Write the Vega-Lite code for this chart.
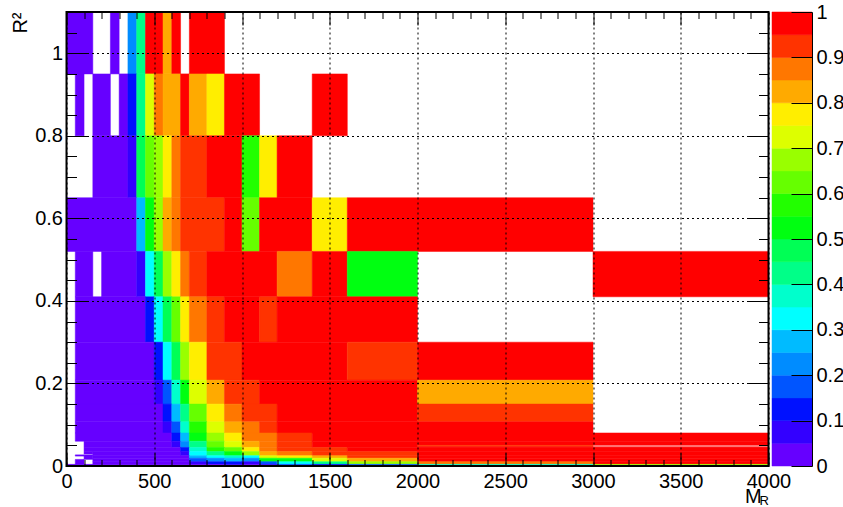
{"$schema":"https://vega.github.io/schema/vega-lite/v6.json","autosize":{"type":"pad"},"background":"white","padding":{"left":9.5,"top":2,"right":0,"bottom":0},"bounds":"flush","spacing":3.5,
"config":{"view":{"stroke":null},"font":"Liberation Sans"},
"datasets":{"cells":[
{"x0":0,"x1":150,"y0":0.95,"y1":1.1,"v":0.025},{"x0":250,"x1":300,"y0":0.95,"y1":1.1,"v":0.025},{"x0":350,"x1":400,"y0":0.95,"y1":1.1,"v":0.225},{"x0":400,"x1":450,"y0":0.95,"y1":1.1,"v":0.425},{"x0":450,"x1":550,"y0":0.95,"y1":1.1,"v":0.975},{"x0":550,"x1":600,"y0":0.95,"y1":1.1,"v":0.825},{"x0":600,"x1":650,"y0":0.95,"y1":1.1,"v":0.975},{"x0":700,"x1":900,"y0":0.95,"y1":1.1,"v":0.975},
{"x0":50,"x1":100,"y0":0.8,"y1":0.95,"v":0.025},{"x0":150,"x1":250,"y0":0.8,"y1":0.95,"v":0.025},{"x0":300,"x1":350,"y0":0.8,"y1":0.95,"v":0.025},{"x0":350,"x1":400,"y0":0.8,"y1":0.95,"v":0.125},{"x0":400,"x1":450,"y0":0.8,"y1":0.95,"v":0.425},{"x0":450,"x1":500,"y0":0.8,"y1":0.95,"v":0.725},{"x0":500,"x1":550,"y0":0.8,"y1":0.95,"v":0.875},{"x0":550,"x1":650,"y0":0.8,"y1":0.95,"v":0.825},{"x0":650,"x1":700,"y0":0.8,"y1":0.95,"v":0.975},{"x0":700,"x1":800,"y0":0.8,"y1":0.95,"v":0.825},{"x0":800,"x1":900,"y0":0.8,"y1":0.95,"v":0.775},{"x0":900,"x1":1100,"y0":0.8,"y1":0.95,"v":0.975},{"x0":1400,"x1":1600,"y0":0.8,"y1":0.95,"v":0.975},
{"x0":150,"x1":350,"y0":0.65,"y1":0.8,"v":0.025},{"x0":350,"x1":400,"y0":0.65,"y1":0.8,"v":0.075},{"x0":400,"x1":450,"y0":0.65,"y1":0.8,"v":0.475},{"x0":450,"x1":500,"y0":0.65,"y1":0.8,"v":0.625},{"x0":500,"x1":550,"y0":0.65,"y1":0.8,"v":0.675},{"x0":550,"x1":600,"y0":0.65,"y1":0.8,"v":0.775},{"x0":600,"x1":650,"y0":0.65,"y1":0.8,"v":0.875},{"x0":650,"x1":800,"y0":0.65,"y1":0.8,"v":0.925},{"x0":800,"x1":1000,"y0":0.65,"y1":0.8,"v":0.975},{"x0":1000,"x1":1100,"y0":0.65,"y1":0.8,"v":0.575},{"x0":1100,"x1":1200,"y0":0.65,"y1":0.8,"v":0.775},{"x0":1200,"x1":1400,"y0":0.65,"y1":0.8,"v":0.975},
{"x0":0,"x1":400,"y0":0.52,"y1":0.65,"v":0.025},{"x0":400,"x1":450,"y0":0.52,"y1":0.65,"v":0.275},{"x0":450,"x1":500,"y0":0.52,"y1":0.65,"v":0.525},{"x0":500,"x1":550,"y0":0.52,"y1":0.65,"v":0.675},{"x0":550,"x1":600,"y0":0.52,"y1":0.65,"v":0.825},{"x0":600,"x1":650,"y0":0.52,"y1":0.65,"v":0.875},{"x0":650,"x1":900,"y0":0.52,"y1":0.65,"v":0.925},{"x0":900,"x1":1000,"y0":0.52,"y1":0.65,"v":0.975},{"x0":1000,"x1":1100,"y0":0.52,"y1":0.65,"v":0.625},{"x0":1100,"x1":1400,"y0":0.52,"y1":0.65,"v":0.975},{"x0":1400,"x1":1600,"y0":0.52,"y1":0.65,"v":0.775},{"x0":1600,"x1":3000,"y0":0.52,"y1":0.65,"v":0.975},
{"x0":50,"x1":150,"y0":0.41,"y1":0.52,"v":0.025},{"x0":200,"x1":400,"y0":0.41,"y1":0.52,"v":0.025},{"x0":400,"x1":450,"y0":0.41,"y1":0.52,"v":0.075},{"x0":450,"x1":500,"y0":0.41,"y1":0.52,"v":0.325},{"x0":500,"x1":550,"y0":0.41,"y1":0.52,"v":0.475},{"x0":550,"x1":600,"y0":0.41,"y1":0.52,"v":0.675},{"x0":600,"x1":650,"y0":0.41,"y1":0.52,"v":0.775},{"x0":650,"x1":700,"y0":0.41,"y1":0.52,"v":0.875},{"x0":700,"x1":800,"y0":0.41,"y1":0.52,"v":0.925},{"x0":800,"x1":1200,"y0":0.41,"y1":0.52,"v":0.975},{"x0":1200,"x1":1400,"y0":0.41,"y1":0.52,"v":0.875},{"x0":1400,"x1":1600,"y0":0.41,"y1":0.52,"v":0.975},{"x0":1600,"x1":2000,"y0":0.41,"y1":0.52,"v":0.525},{"x0":3000,"x1":4000,"y0":0.41,"y1":0.52,"v":0.975},
{"x0":50,"x1":450,"y0":0.3,"y1":0.41,"v":0.025},{"x0":450,"x1":500,"y0":0.3,"y1":0.41,"v":0.125},{"x0":500,"x1":550,"y0":0.3,"y1":0.41,"v":0.325},{"x0":550,"x1":600,"y0":0.3,"y1":0.41,"v":0.475},{"x0":600,"x1":650,"y0":0.3,"y1":0.41,"v":0.625},{"x0":650,"x1":700,"y0":0.3,"y1":0.41,"v":0.775},{"x0":700,"x1":800,"y0":0.3,"y1":0.41,"v":0.875},{"x0":800,"x1":900,"y0":0.3,"y1":0.41,"v":0.925},{"x0":900,"x1":1100,"y0":0.3,"y1":0.41,"v":0.975},{"x0":1100,"x1":1200,"y0":0.3,"y1":0.41,"v":0.925},{"x0":1200,"x1":2000,"y0":0.3,"y1":0.41,"v":0.975},
{"x0":50,"x1":500,"y0":0.208,"y1":0.3,"v":0.025},{"x0":500,"x1":550,"y0":0.208,"y1":0.3,"v":0.125},{"x0":550,"x1":600,"y0":0.208,"y1":0.3,"v":0.325},{"x0":600,"x1":650,"y0":0.208,"y1":0.3,"v":0.475},{"x0":650,"x1":700,"y0":0.208,"y1":0.3,"v":0.675},{"x0":700,"x1":800,"y0":0.208,"y1":0.3,"v":0.775},{"x0":800,"x1":1000,"y0":0.208,"y1":0.3,"v":0.925},{"x0":1000,"x1":1600,"y0":0.208,"y1":0.3,"v":0.975},{"x0":1600,"x1":2000,"y0":0.208,"y1":0.3,"v":0.925},{"x0":2000,"x1":3000,"y0":0.208,"y1":0.3,"v":0.975},
{"x0":50,"x1":500,"y0":0.15,"y1":0.208,"v":0.025},{"x0":500,"x1":550,"y0":0.15,"y1":0.208,"v":0.075},{"x0":550,"x1":600,"y0":0.15,"y1":0.208,"v":0.175},{"x0":600,"x1":650,"y0":0.15,"y1":0.208,"v":0.375},{"x0":650,"x1":700,"y0":0.15,"y1":0.208,"v":0.525},{"x0":700,"x1":800,"y0":0.15,"y1":0.208,"v":0.725},{"x0":800,"x1":900,"y0":0.15,"y1":0.208,"v":0.825},{"x0":900,"x1":1100,"y0":0.15,"y1":0.208,"v":0.925},{"x0":1100,"x1":2000,"y0":0.15,"y1":0.208,"v":0.975},{"x0":2000,"x1":3000,"y0":0.15,"y1":0.208,"v":0.825},
{"x0":50,"x1":550,"y0":0.107,"y1":0.15,"v":0.025},{"x0":550,"x1":600,"y0":0.107,"y1":0.15,"v":0.125},{"x0":600,"x1":650,"y0":0.107,"y1":0.15,"v":0.275},{"x0":650,"x1":700,"y0":0.107,"y1":0.15,"v":0.425},{"x0":700,"x1":800,"y0":0.107,"y1":0.15,"v":0.625},{"x0":800,"x1":900,"y0":0.107,"y1":0.15,"v":0.775},{"x0":900,"x1":1000,"y0":0.107,"y1":0.15,"v":0.875},{"x0":1000,"x1":1200,"y0":0.107,"y1":0.15,"v":0.925},{"x0":1200,"x1":2000,"y0":0.107,"y1":0.15,"v":0.975},{"x0":2000,"x1":3000,"y0":0.107,"y1":0.15,"v":0.925},
{"x0":50,"x1":550,"y0":0.08,"y1":0.107,"v":0.025},{"x0":550,"x1":600,"y0":0.08,"y1":0.107,"v":0.075},{"x0":600,"x1":650,"y0":0.08,"y1":0.107,"v":0.175},{"x0":650,"x1":700,"y0":0.08,"y1":0.107,"v":0.375},{"x0":700,"x1":800,"y0":0.08,"y1":0.107,"v":0.575},{"x0":800,"x1":900,"y0":0.08,"y1":0.107,"v":0.725},{"x0":900,"x1":1000,"y0":0.08,"y1":0.107,"v":0.825},{"x0":1000,"x1":1100,"y0":0.08,"y1":0.107,"v":0.875},{"x0":1100,"x1":1200,"y0":0.08,"y1":0.107,"v":0.925},{"x0":1200,"x1":3000,"y0":0.08,"y1":0.107,"v":0.975},
{"x0":50,"x1":600,"y0":0.06,"y1":0.08,"v":0.025},{"x0":600,"x1":650,"y0":0.06,"y1":0.08,"v":0.125},{"x0":650,"x1":700,"y0":0.06,"y1":0.08,"v":0.275},{"x0":700,"x1":800,"y0":0.06,"y1":0.08,"v":0.525},{"x0":800,"x1":900,"y0":0.06,"y1":0.08,"v":0.675},{"x0":900,"x1":1000,"y0":0.06,"y1":0.08,"v":0.775},{"x0":1000,"x1":1200,"y0":0.06,"y1":0.08,"v":0.875},{"x0":1200,"x1":1400,"y0":0.06,"y1":0.08,"v":0.925},{"x0":1400,"x1":4000,"y0":0.06,"y1":0.08,"v":0.975},
{"x0":100,"x1":600,"y0":0.045,"y1":0.06,"v":0.025},{"x0":600,"x1":650,"y0":0.045,"y1":0.06,"v":0.075},{"x0":650,"x1":700,"y0":0.045,"y1":0.06,"v":0.225},{"x0":700,"x1":800,"y0":0.045,"y1":0.06,"v":0.425},{"x0":800,"x1":900,"y0":0.045,"y1":0.06,"v":0.625},{"x0":900,"x1":1000,"y0":0.045,"y1":0.06,"v":0.725},{"x0":1000,"x1":1100,"y0":0.045,"y1":0.06,"v":0.825},{"x0":1100,"x1":1200,"y0":0.045,"y1":0.06,"v":0.875},{"x0":1200,"x1":1400,"y0":0.045,"y1":0.06,"v":0.925},{"x0":1400,"x1":2000,"y0":0.045,"y1":0.06,"v":0.975},
{"x0":2000,"x1":4000,"y0":0.05,"y1":0.06,"v":0.975},{"x0":2000,"x1":3000,"y0":0.0465,"y1":0.05,"v":0.925},{"x0":2000,"x1":4000,"y0":0.045,"y1":0.0465,"v":0.975},
{"x0":100,"x1":650,"y0":0.035,"y1":0.045,"v":0.025},{"x0":650,"x1":700,"y0":0.035,"y1":0.045,"v":0.125},{"x0":700,"x1":800,"y0":0.035,"y1":0.045,"v":0.375},{"x0":800,"x1":900,"y0":0.035,"y1":0.045,"v":0.575},{"x0":900,"x1":1000,"y0":0.035,"y1":0.045,"v":0.625},{"x0":1000,"x1":1100,"y0":0.035,"y1":0.045,"v":0.775},{"x0":1100,"x1":1200,"y0":0.035,"y1":0.045,"v":0.875},{"x0":1200,"x1":1600,"y0":0.035,"y1":0.045,"v":0.925},{"x0":1600,"x1":4000,"y0":0.035,"y1":0.045,"v":0.975},
{"x0":150,"x1":650,"y0":0.025,"y1":0.035,"v":0.025},{"x0":650,"x1":700,"y0":0.025,"y1":0.035,"v":0.075},{"x0":700,"x1":800,"y0":0.025,"y1":0.035,"v":0.325},{"x0":800,"x1":900,"y0":0.025,"y1":0.035,"v":0.425},{"x0":900,"x1":1000,"y0":0.025,"y1":0.035,"v":0.525},{"x0":1000,"x1":1100,"y0":0.025,"y1":0.035,"v":0.675},{"x0":1100,"x1":1200,"y0":0.025,"y1":0.035,"v":0.825},{"x0":1200,"x1":1400,"y0":0.025,"y1":0.035,"v":0.875},{"x0":1400,"x1":2000,"y0":0.025,"y1":0.035,"v":0.925},{"x0":2000,"x1":4000,"y0":0.025,"y1":0.035,"v":0.975},
{"x0":150,"x1":700,"y0":0.019,"y1":0.025,"v":0.025},{"x0":700,"x1":800,"y0":0.019,"y1":0.025,"v":0.275},{"x0":800,"x1":900,"y0":0.019,"y1":0.025,"v":0.325},{"x0":900,"x1":1000,"y0":0.019,"y1":0.025,"v":0.375},{"x0":1000,"x1":1100,"y0":0.019,"y1":0.025,"v":0.325},{"x0":1100,"x1":1200,"y0":0.019,"y1":0.025,"v":0.725},{"x0":1200,"x1":1400,"y0":0.019,"y1":0.025,"v":0.775},{"x0":1400,"x1":1600,"y0":0.019,"y1":0.025,"v":0.825},{"x0":1600,"x1":2000,"y0":0.019,"y1":0.025,"v":0.925},{"x0":2000,"x1":4000,"y0":0.019,"y1":0.025,"v":0.975},
{"x0":150,"x1":700,"y0":0.0105,"y1":0.019,"v":0.025},{"x0":700,"x1":800,"y0":0.0105,"y1":0.019,"v":0.175},{"x0":800,"x1":900,"y0":0.0105,"y1":0.019,"v":0.225},{"x0":900,"x1":1000,"y0":0.0105,"y1":0.019,"v":0.275},{"x0":1000,"x1":1100,"y0":0.0105,"y1":0.019,"v":0.225},{"x0":1100,"x1":1400,"y0":0.0105,"y1":0.019,"v":0.525},{"x0":1400,"x1":1600,"y0":0.0105,"y1":0.019,"v":0.725},{"x0":1600,"x1":2000,"y0":0.0105,"y1":0.019,"v":0.825},{"x0":2000,"x1":4000,"y0":0.0105,"y1":0.019,"v":0.975},
{"x0":150,"x1":700,"y0":0.004,"y1":0.0105,"v":0.025},{"x0":700,"x1":800,"y0":0.004,"y1":0.0105,"v":0.075},{"x0":800,"x1":1000,"y0":0.004,"y1":0.0105,"v":0.125},{"x0":1000,"x1":1100,"y0":0.004,"y1":0.0105,"v":0.075},{"x0":1100,"x1":1200,"y0":0.004,"y1":0.0105,"v":0.175},{"x0":1200,"x1":1400,"y0":0.004,"y1":0.0105,"v":0.325},{"x0":1400,"x1":1600,"y0":0.004,"y1":0.0105,"v":0.425},{"x0":1600,"x1":2000,"y0":0.004,"y1":0.0105,"v":0.675},{"x0":2000,"x1":3000,"y0":0.004,"y1":0.0105,"v":0.875},{"x0":3000,"x1":4000,"y0":0.004,"y1":0.0105,"v":0.975},
{"x0":0,"x1":900,"y0":0,"y1":0.004,"v":0.025},{"x0":900,"x1":1000,"y0":0,"y1":0.004,"v":0.075},{"x0":1000,"x1":1100,"y0":0,"y1":0.004,"v":0.025},{"x0":1100,"x1":1200,"y0":0,"y1":0.004,"v":0.075},{"x0":1200,"x1":1400,"y0":0,"y1":0.004,"v":0.175},{"x0":1400,"x1":1600,"y0":0,"y1":0.004,"v":0.125},{"x0":1600,"x1":2000,"y0":0,"y1":0.004,"v":0.175},{"x0":2000,"x1":3000,"y0":0,"y1":0.004,"v":0.375},{"x0":3000,"x1":4000,"y0":0,"y1":0.004,"v":0.675},
{"x0":50,"x1":100,"y0":0.004,"y1":0.016,"v":0.025},{"x0":50,"x1":100,"y0":0.024,"y1":0.027,"v":0.025},{"x0":100,"x1":150,"y0":0.029,"y1":0.035,"v":0.025},{"x0":100,"x1":150,"y0":0.016,"y1":0.027,"v":0.025}
],
"bar":[{"y0":0,"y1":0.05,"v":0.025},{"y0":0.05,"y1":0.1,"v":0.075},{"y0":0.1,"y1":0.15,"v":0.125},{"y0":0.15,"y1":0.2,"v":0.175},{"y0":0.2,"y1":0.25,"v":0.225},{"y0":0.25,"y1":0.3,"v":0.275},{"y0":0.3,"y1":0.35,"v":0.325},{"y0":0.35,"y1":0.4,"v":0.375},{"y0":0.4,"y1":0.45,"v":0.425},{"y0":0.45,"y1":0.5,"v":0.475},{"y0":0.5,"y1":0.55,"v":0.525},{"y0":0.55,"y1":0.6,"v":0.575},{"y0":0.6,"y1":0.65,"v":0.625},{"y0":0.65,"y1":0.7,"v":0.675},{"y0":0.7,"y1":0.75,"v":0.725},{"y0":0.75,"y1":0.8,"v":0.775},{"y0":0.8,"y1":0.85,"v":0.825},{"y0":0.85,"y1":0.9,"v":0.875},{"y0":0.9,"y1":0.95,"v":0.925},{"y0":0.95,"y1":1,"v":0.975}],
"frame":[{"x0":0,"x1":4000,"y0":0,"y1":1.1}]},
"hconcat":[
{"width":702,"height":454,"layer":[
{"data":{"name":"cells"},"mark":{"type":"rect","strokeWidth":0.5},
"encoding":{
"x":{"field":"x0","type":"quantitative","scale":{"domain":[0,4000],"nice":false,"zero":false},
"axis":{"orient":"bottom","values":[0,100,200,300,400,500,600,700,800,900,1000,1100,1200,1300,1400,1500,1600,1700,1800,1900,2000,2100,2200,2300,2400,2500,2600,2700,2800,2900,3000,3100,3200,3300,3400,3500,3600,3700,3800,3900,4000],
"zindex":1,"domain":false,"grid":true,"gridColor":"#000","gridDash":[2,3],"gridWidth":1,"gridOpacity":{"condition":{"test":"datum.value%500===0","value":1},"value":0},
"ticks":true,"tickColor":"#000","tickWidth":1,"tickSize":{"condition":{"test":"datum.value%500===0","value":-13},"value":-6.5},
"labelExpr":"datum.value%500===0?format(datum.value,'d'):''","labelFontSize":20,"labelColor":"#000","labelFont":"Liberation Sans","labelPadding":18,"labelOverlap":false,"labelFlush":false,"labelBound":false,
"title":"M","titleFont":"Liberation Sans","titleFontWeight":"normal","titleFontSize":20,"titleColor":"#000","titleX":678,"titleY":36,"titleAlign":"left","titleBaseline":"alphabetic"}},
"x2":{"field":"x1"},
"y":{"field":"y0","type":"quantitative","scale":{"domain":[0,1.1],"nice":false,"zero":false},
"axis":{"orient":"left","values":[0,0.05,0.1,0.15,0.2,0.25,0.3,0.35,0.4,0.45,0.5,0.55,0.6,0.65,0.7,0.75,0.8,0.85,0.9,0.95,1,1.05,1.1],
"zindex":1,"domain":false,"grid":true,"gridColor":"#000","gridDash":[2,3],"gridWidth":1,"gridOpacity":{"condition":{"test":"abs(datum.value*5-round(datum.value*5))<0.001","value":1},"value":0},
"ticks":true,"tickColor":"#000","tickWidth":1,"tickSize":{"condition":{"test":"abs(datum.value*5-round(datum.value*5))<0.001","value":-20},"value":-10},
"labelExpr":"abs(datum.value*5-round(datum.value*5))<0.001?format(datum.value,'~g'):''","labelFontSize":20,"labelColor":"#000","labelFont":"Liberation Sans","labelPadding":24,"labelOverlap":false,"labelFlush":false,"labelBound":false,
"title":"R²","titleFont":"Liberation Sans","titleFontWeight":"normal","titleFontSize":20,"titleColor":"#000","titleX":-40.5,"titleY":0,"titleAngle":-90,"titleAlign":"right","titleBaseline":"alphabetic"}},
"y2":{"field":"y1"},
"stroke":{"field":"v","type":"quantitative","legend":null,"scale":{"type":"threshold","domain":[0.05,0.1,0.15,0.2,0.25,0.3,0.35,0.4,0.45,0.5,0.55,0.6,0.65,0.7,0.75,0.8,0.85,0.9,0.95],"range":["#6600ff","#3300ff","#0011ff","#0055ff","#008cff","#00bbff","#00ffff","#00ffcc","#00ff88","#00ff55","#00ff11","#22ff00","#66ff00","#99ff00","#ddff00","#ffee00","#ffaa00","#ff7700","#ff3300","#ff0000"]}},
"color":{"field":"v","type":"quantitative","legend":null,"scale":{"type":"threshold","domain":[0.05,0.1,0.15,0.2,0.25,0.3,0.35,0.4,0.45,0.5,0.55,0.6,0.65,0.7,0.75,0.8,0.85,0.9,0.95],"range":["#6600ff","#3300ff","#0011ff","#0055ff","#008cff","#00bbff","#00ffff","#00ffcc","#00ff88","#00ff55","#00ff11","#22ff00","#66ff00","#99ff00","#ddff00","#ffee00","#ffaa00","#ff7700","#ff3300","#ff0000"]}}}},
{"data":{"name":"frame"},"mark":{"type":"rect","filled":false,"stroke":"#000","strokeWidth":2},
"encoding":{
"x":{"field":"x0","type":"quantitative","scale":{"domain":[0,4000],"nice":false,"zero":false},
"axis":{"orient":"top","values":[0,100,200,300,400,500,600,700,800,900,1000,1100,1200,1300,1400,1500,1600,1700,1800,1900,2000,2100,2200,2300,2400,2500,2600,2700,2800,2900,3000,3100,3200,3300,3400,3500,3600,3700,3800,3900,4000],
"zindex":1,"domain":false,"grid":false,"labels":false,"tickColor":"#000","tickWidth":1,"tickSize":{"condition":{"test":"datum.value%500===0","value":-13},"value":-6.5},
"title":"R","titleFont":"Liberation Sans","titleFontWeight":"normal","titleFontSize":13,"titleColor":"#000","titleX":692.5,"titleY":492,"titleAlign":"left","titleBaseline":"alphabetic"}},
"x2":{"field":"x1"},
"y":{"field":"y0","type":"quantitative","scale":{"domain":[0,1.1],"nice":false,"zero":false},
"axis":{"orient":"right","values":[0,0.05,0.1,0.15,0.2,0.25,0.3,0.35,0.4,0.45,0.5,0.55,0.6,0.65,0.7,0.75,0.8,0.85,0.9,0.95,1,1.05,1.1],
"zindex":1,"domain":false,"grid":false,"labels":false,"tickColor":"#000","tickWidth":1,"tickSize":{"condition":{"test":"abs(datum.value*5-round(datum.value*5))<0.001","value":-20},"value":-10},"title":null}},
"y2":{"field":"y1"}}}
],"resolve":{"axis":{"x":"independent","y":"independent"}}},
{"width":40,"height":454,"data":{"name":"bar"},"mark":{"type":"rect","strokeWidth":0.5},
"encoding":{
"y":{"field":"y0","type":"quantitative","scale":{"domain":[0,1],"nice":false,"zero":false},
"axis":{"orient":"right","values":[0,0.1,0.2,0.3,0.4,0.5,0.6,0.7,0.8,0.9,1],"zindex":1,"domain":true,"domainColor":"#000","domainWidth":1,"grid":false,"tickColor":"#000","tickWidth":1,"tickSize":-21,"format":"~g","labelFontSize":20,"labelColor":"#000","labelFont":"Liberation Sans","labelPadding":25,"labelOverlap":false,"labelFlush":false,"labelBound":false,"title":null}},
"y2":{"field":"y1"},
"stroke":{"field":"v","type":"quantitative","legend":null,"scale":{"type":"threshold","domain":[0.05,0.1,0.15,0.2,0.25,0.3,0.35,0.4,0.45,0.5,0.55,0.6,0.65,0.7,0.75,0.8,0.85,0.9,0.95],"range":["#6600ff","#3300ff","#0011ff","#0055ff","#008cff","#00bbff","#00ffff","#00ffcc","#00ff88","#00ff55","#00ff11","#22ff00","#66ff00","#99ff00","#ddff00","#ffee00","#ffaa00","#ff7700","#ff3300","#ff0000"]}},
"color":{"field":"v","type":"quantitative","legend":null,"scale":{"type":"threshold","domain":[0.05,0.1,0.15,0.2,0.25,0.3,0.35,0.4,0.45,0.5,0.55,0.6,0.65,0.7,0.75,0.8,0.85,0.9,0.95],"range":["#6600ff","#3300ff","#0011ff","#0055ff","#008cff","#00bbff","#00ffff","#00ffcc","#00ff88","#00ff55","#00ff11","#22ff00","#66ff00","#99ff00","#ddff00","#ffee00","#ffaa00","#ff7700","#ff3300","#ff0000"]}}}}
]}
